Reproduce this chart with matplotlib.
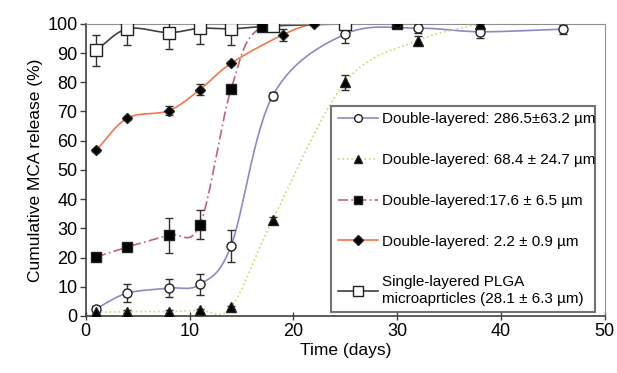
import numpy as np
import matplotlib
matplotlib.use("Agg")
import matplotlib.pyplot as plt
from matplotlib.lines import Line2D

plt.rcParams['font.family'] = ['Liberation Sans', 'DejaVu Sans']

# ---- data ----
days_circle = [1, 4, 8, 11, 14, 18, 25, 32, 38, 46]
rel_circle = [2.5, 7.8, 9.5, 10.8, 24.0, 75.3, 96.5, 98.5, 97.3, 98.2]
err_circle = [1.0, 3.0, 3.0, 3.5, 5.5, 1.5, 3.0, 1.5, 2.0, 1.5]

days_tri = [1, 4, 8, 11, 14, 18, 25, 32, 38]
rel_tri = [1.2, 1.5, 1.5, 2.0, 3.0, 32.8, 80.0, 94.3, 100.0]
err_tri = [0.5, 0.5, 0.5, 0.5, 0.5, 1.0, 2.5, 1.5, 0.0]

days_sq = [1, 4, 8, 11, 14, 17, 25, 30]
rel_sq = [20.2, 23.6, 27.7, 31.3, 77.6, 99.0, 100.0, 100.0]
err_sq = [0.8, 1.0, 6.0, 5.0, 1.0, 0.5, 0.5, 0.5]

days_dia = [1, 4, 8, 11, 14, 19, 22, 25, 30]
rel_dia = [56.7, 67.7, 70.3, 77.5, 86.5, 96.3, 100.0, 100.0, 100.0]
err_dia = [0.5, 0.5, 1.5, 2.0, 0.5, 2.0, 0.5, 0.5, 0.5]

days_single = [1, 4, 8, 11, 14, 18, 25]
rel_single = [91.0, 98.3, 97.0, 98.5, 98.3, 99.3, 100.0]
err_single = [5.3, 5.5, 5.5, 5.5, 5.5, 1.0, 0.5]

labels = ["Double-layered: 286.5\u00b163.2 \u00b5m",
          "Double-layered: 68.4 \u00b1 24.7 \u00b5m",
          "Double-layered:17.6 \u00b1 6.5 \u00b5m",
          "Double-layered: 2.2 \u00b1 0.9 \u00b5m",
          "Single-layered PLGA\nmicroaprticles (28.1 \u00b1 6.3 \u00b5m)"]


def smooth(x, y, n=30):
    """Catmull-Rom rendering of a line through the points (Excel-like smoothing)."""
    x = np.asarray(x, float); y = np.asarray(y, float)
    P = np.column_stack([x, y])
    P = np.vstack([P[0] - (P[1] - P[0]), P, P[-1] + (P[-1] - P[-2])])
    out = []
    for i in range(1, len(P) - 2):
        p0, p1, p2, p3 = P[i - 1], P[i], P[i + 1], P[i + 2]
        t = np.linspace(0, 1, n)[:, None]
        c = 0.5 * ((2 * p1) + (-p0 + p2) * t + (2 * p0 - 5 * p1 + 4 * p2 - p3) * t ** 2
                   + (-p0 + 3 * p1 - 3 * p2 + p3) * t ** 3)
        out.append(c if i == len(P) - 3 else c[:-1])
    c = np.vstack(out)
    return c[:, 0], c[:, 1]


fig = plt.figure(figsize=(6.17, 3.73), dpi=100)
ax = fig.add_axes([0.139, 0.153, 0.841, 0.783])

series = [
    (days_circle, rel_circle, err_circle, '#8a8ac8', '-', 'o', 'white', 6.5),
    (days_tri, rel_tri, err_tri, '#c8dc6a', ':', '^', 'black', 6.5),
    (days_sq, rel_sq, err_sq, '#c06080', (0, (6, 2, 1, 2)), 's', 'black', 7),
    (days_dia, rel_dia, err_dia, '#f07848', '-', 'D', 'black', 5.5),
    (days_single, rel_single, err_single, '#404040', '-', 's', 'white', 8),
]

handles = []
for (xd, yd, ed, col, ls, mk, fc, ms), lab in zip(series, labels):
    sx, sy = smooth(xd, yd)
    ax.plot(sx, sy, color=col, ls=ls, lw=1.2, zorder=2)
    ax.errorbar(xd, yd, yerr=ed, fmt='none', ecolor='#303030', elinewidth=1.0,
                capsize=3, capthick=1.0, zorder=3)
    ax.plot(xd, yd, ls='none', marker=mk, ms=ms, mfc=fc, mec='#202020', mew=1.0, zorder=4)
    handles.append(Line2D([], [], color=col, ls=ls, lw=1.2, marker=mk, ms=ms * 0.85,
                          mfc=fc, mec='#202020', mew=1.0))

ax.set_xlim(0, 50)
ax.set_ylim(0, 100)
ax.set_xticks(range(0, 51, 10))
ax.set_yticks(range(0, 101, 10))
ax.tick_params(axis='both', labelsize=13, length=4, width=1, color='#404040', pad=2)
ax.tick_params(axis='x', direction='inout', length=6)
for s in ['top', 'right']:
    ax.spines[s].set_color('#909090')
for s in ['left', 'bottom']:
    ax.spines[s].set_color('#404040')
    ax.spines[s].set_linewidth(1.2)

ax.set_xlabel('Time (days)', fontsize=12.5, labelpad=2)
ax.set_ylabel('Cumulative MCA release (%)', fontsize=12.5, labelpad=3)

leg = ax.legend(handles, labels, loc='lower left', bbox_to_anchor=(0.473, 0.012, 0.508, 0.69),
                mode='expand', fontsize=11, frameon=True, fancybox=False,
                handlelength=2.6, handletextpad=0.25, labelspacing=1.75,
                borderpad=0.45, borderaxespad=0)
leg.get_frame().set_edgecolor('#505050')
leg.get_frame().set_linewidth(1.5)

fig.savefig('out.png', dpi=100)
